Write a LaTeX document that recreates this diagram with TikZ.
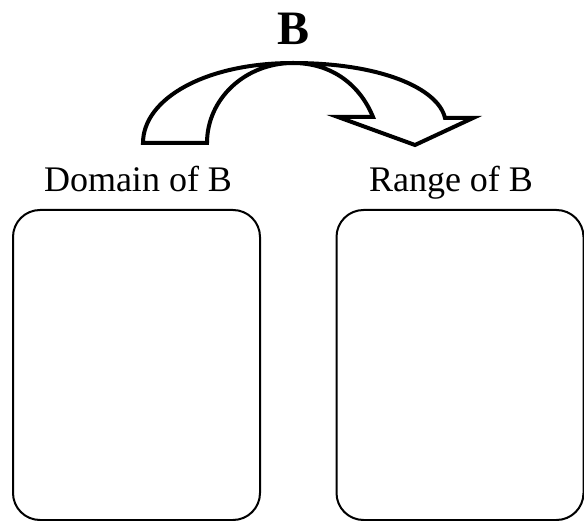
\documentclass[tikz,border=0pt]{standalone}
\usepackage{fontspec}
\setmainfont{Liberation Serif}
\begin{document}
\begin{tikzpicture}[x=1pt,y=-1pt,
  setbox/.style={draw=black,line width=2pt,rounded corners=27pt,minimum width=247pt,minimum height=310pt,inner sep=0pt},
  label/.style={font=\fontsize{36}{42}\selectfont,anchor=base,inner sep=0pt},
  bigarrow/.style={draw=black,line width=4pt,fill=white,line join=miter}]
\useasboundingbox (0,0) rectangle (584,521);
\node[setbox] (dom) at (136.5,365) {};
\node[setbox] (ran) at (460,365) {};
\node[label] (domlab) at (138,192) {Domain of B};
\node[label] (ranlab) at (451,192) {Range of B};
\node[font=\bfseries\fontsize{48}{56}\selectfont,anchor=base,inner sep=0pt] (title) at (294,45) {B};
\draw[bigarrow] (143,143) .. controls (143,99) and (205,63) .. (293,63)
  .. controls (380,63) and (438,88) .. (445,118)
  -- (473,118) -- (415,145) -- (338,117) -- (373,117)
  .. controls (360,85) and (332,63) .. (293,63)
  .. controls (245,63) and (207,99) .. (207,143) -- cycle;
\end{tikzpicture}
\end{document}
